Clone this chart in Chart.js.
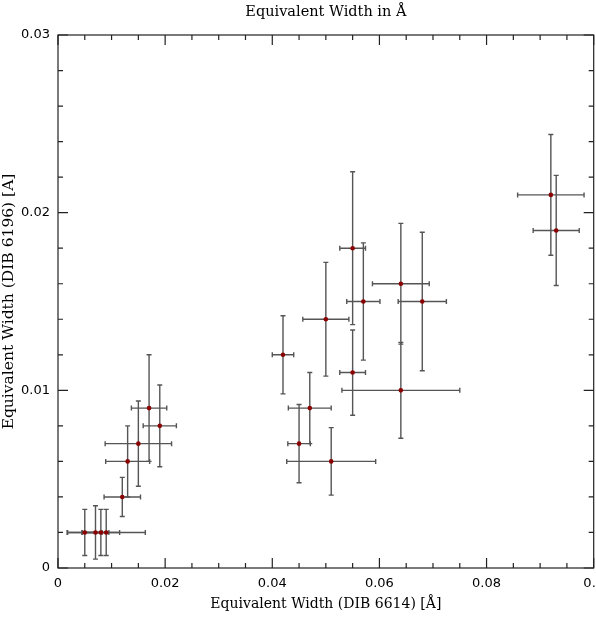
<!DOCTYPE html>
<html>
<head>
<meta charset="utf-8">
<script src="https://cdn.jsdelivr.net/npm/chart.js@4"></script>
<style>
  body { margin: 0; background: #fff; }
  #wrap { width: 596px; height: 617px; }
</style>
</head>
<body>
<div id="wrap"><canvas id="ewChart"></canvas></div>
<script>
// DIB 6614 vs DIB 6196 equivalent widths
const ew6614 = [0.005, 0.007, 0.008, 0.009, 0.012, 0.013, 0.015, 0.017, 0.019,
                0.042, 0.045, 0.047, 0.050, 0.051, 0.055, 0.055, 0.057, 0.064, 0.064, 0.068,
                0.092, 0.093]
const ew6196 = [0.002, 0.002, 0.002, 0.002, 0.004, 0.006, 0.007, 0.009, 0.008,
                0.012, 0.007, 0.009, 0.014, 0.006, 0.018, 0.011, 0.015, 0.016, 0.010, 0.015,
                0.021, 0.019]
const err6614 = [0.0032, 0.0025, 0.0035, 0.0073, 0.0034, 0.0041, 0.0062, 0.0033, 0.0031,
                 0.0020, 0.0021, 0.0040, 0.0043, 0.0083, 0.0024, 0.0024, 0.0031, 0.0053, 0.0110, 0.0045,
                 0.0062, 0.0043]
const err6196 = [0.0013, 0.0015, 0.0013, 0.0013, 0.0011, 0.0020, 0.0024, 0.0030, 0.0023,
                 0.0022, 0.0022, 0.0020, 0.0032, 0.0019, 0.0043, 0.0024, 0.0033, 0.0034, 0.0027, 0.0039,
                 0.0034, 0.0031]

const xTicks = [0, 0.02, 0.04, 0.06, 0.08, 0.1]
const xTickLabels = ["0", "0.02", "0.04", "0.06", "0.08", "0.1"]
const yTicks = [0, 0.01, 0.02, 0.03]
const yTickLabels = ["0", "0.01", "0.02", "0.03"]
const xMinorStep = 0.005
const yMinorStep = 0.002

const points = ew6614.map((x, i) => ({ x: x, y: ew6196[i], xe: err6614[i], ye: err6196[i] }))

// error bars under the points
const errorBars = {
    id: "errorBars",
    beforeDatasetsDraw(chart) {
        const ctx = chart.ctx
        const xs = chart.scales.x
        const ys = chart.scales.y
        const cap = 2.5
        ctx.save()
        ctx.strokeStyle = "#555"
        ctx.lineWidth = 1.4
        points.forEach(p => {
            const px = xs.getPixelForValue(p.x)
            const py = ys.getPixelForValue(p.y)
            const x0 = xs.getPixelForValue(p.x - p.xe)
            const x1 = xs.getPixelForValue(p.x + p.xe)
            const y0 = ys.getPixelForValue(p.y - p.ye)
            const y1 = ys.getPixelForValue(p.y + p.ye)
            ctx.beginPath()
            ctx.moveTo(x0, py); ctx.lineTo(x1, py)
            ctx.moveTo(x0, py - cap); ctx.lineTo(x0, py + cap)
            ctx.moveTo(x1, py - cap); ctx.lineTo(x1, py + cap)
            ctx.moveTo(px, y0); ctx.lineTo(px, y1)
            ctx.moveTo(px - cap, y0); ctx.lineTo(px + cap, y0)
            ctx.moveTo(px - cap, y1); ctx.lineTo(px + cap, y1)
            ctx.stroke()
        })
        ctx.restore()
    }
}

// box frame with inward ticks on all four sides
const frame = {
    id: "frame",
    afterDraw(chart) {
        const ctx = chart.ctx
        const a = chart.chartArea
        const xs = chart.scales.x
        const ys = chart.scales.y
        ctx.save()
        ctx.strokeStyle = "#222"
        ctx.lineWidth = 1.2
        ctx.strokeRect(a.left, a.top, a.right - a.left, a.bottom - a.top)
        ctx.beginPath()
        for (let k = 0; k * xMinorStep <= xs.max + 1e-9; k++) {
            const v = k * xMinorStep
            const len = (k % 4 === 0) ? 10 : 5
            const px = xs.getPixelForValue(v)
            ctx.moveTo(px, a.bottom); ctx.lineTo(px, a.bottom - len)
            ctx.moveTo(px, a.top); ctx.lineTo(px, a.top + len)
        }
        for (let k = 0; k * yMinorStep <= ys.max + 1e-9; k++) {
            const v = k * yMinorStep
            const len = (k % 5 === 0) ? 10 : 5
            const py = ys.getPixelForValue(v)
            ctx.moveTo(a.left, py); ctx.lineTo(a.left + len, py)
            ctx.moveTo(a.right, py); ctx.lineTo(a.right - len, py)
        }
        ctx.stroke()
        ctx.restore()
    }
}

const serif = { family: "'DejaVu Serif', serif", size: 14, weight: "normal" }
const sans = { family: "'DejaVu Sans', sans-serif", size: 13 }

new Chart(document.getElementById("ewChart"), {
    type: "scatter",
    data: {
        datasets: [{
            data: points,
            pointRadius: 2.3,
            pointHoverRadius: 2.3,
            pointBackgroundColor: "#8b0000",
            pointBorderColor: "#8b0000",
            pointBorderWidth: 0
        }]
    },
    options: {
        responsive: true,
        maintainAspectRatio: false,
        animation: false,
        layout: { padding: { right: 1 } },
        plugins: {
            legend: { display: false },
            tooltip: { enabled: false },
            title: {
                display: true,
                fullSize: false,
                text: "Equivalent Width in Å",
                color: "#000",
                font: { family: "'DejaVu Serif', serif", size: 14.5, weight: "normal" },
                padding: { top: 4, bottom: 13.6 }
            }
        },
        scales: {
            x: {
                type: "linear",
                min: 0,
                max: 0.1,
                afterBuildTicks: s => { s.ticks = xTicks.map(v => ({ value: v })) },
                afterFit: s => { s.height = 49; s.paddingLeft = 0; s.paddingRight = 0 },
                grid: { display: false, drawTicks: false },
                border: { display: false },
                ticks: {
                    color: "#000",
                    font: sans,
                    padding: 8,
                    maxRotation: 0,
                    autoSkip: false,
                    callback: (v, i) => xTickLabels[i]
                },
                title: {
                    display: true,
                    text: "Equivalent Width (DIB 6614) [Å]",
                    color: "#000",
                    font: serif,
                    padding: { top: 0, bottom: 4 }
                }
            },
            y: {
                type: "linear",
                min: 0,
                max: 0.03,
                afterBuildTicks: s => { s.ticks = yTicks.map(v => ({ value: v })) },
                afterFit: s => { s.width = 58; s.paddingTop = 0; s.paddingBottom = 0 },
                grid: { display: false, drawTicks: false },
                border: { display: false },
                ticks: {
                    color: "#000",
                    font: sans,
                    padding: 8,
                    autoSkip: false,
                    callback: (v, i) => yTickLabels[i]
                },
                title: {
                    display: true,
                    text: "Equivalent Width (DIB 6196) [A]",
                    color: "#000",
                    font: { family: "'DejaVu Serif', serif", size: 15.5, weight: "normal" },
                    padding: { top: 0, bottom: 0 }
                }
            }
        }
    },
    plugins: [errorBars, frame]
})
</script>
</body>
</html>
